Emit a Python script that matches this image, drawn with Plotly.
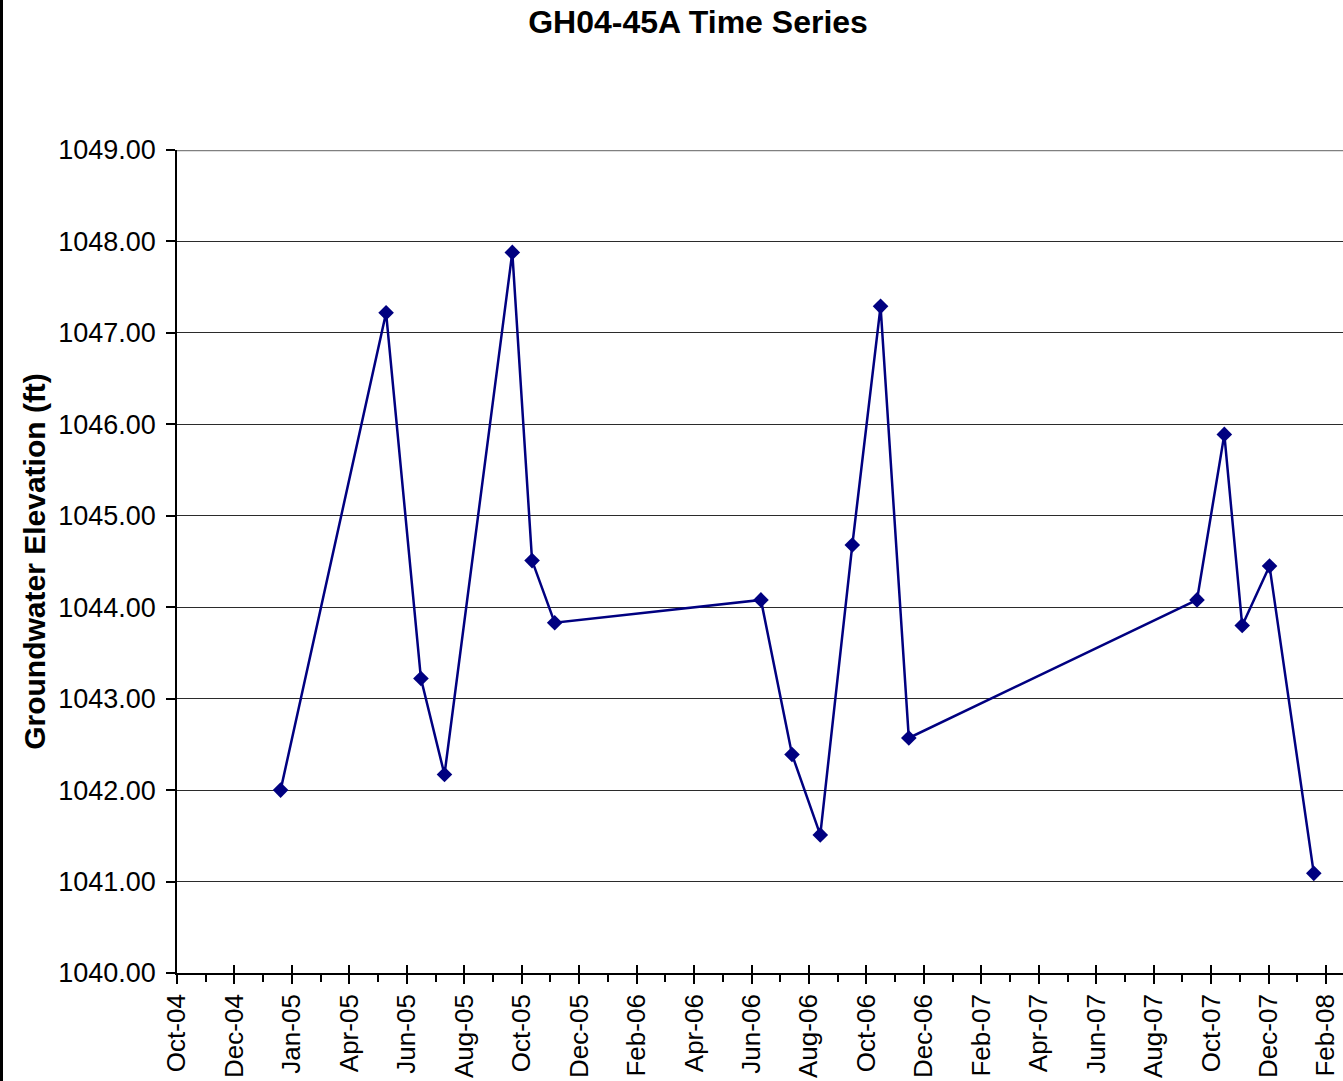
import plotly.graph_objects as go
import pandas as pd

dates = [
    "2005-01-19", "2005-05-11", "2005-06-17", "2005-07-12", "2005-09-22",
    "2005-10-13", "2005-11-06", "2006-06-13", "2006-07-16", "2006-08-15",
    "2006-09-18", "2006-10-18", "2006-11-17", "2007-09-19", "2007-10-18",
    "2007-11-06", "2007-12-05", "2008-01-21",
]
elevation = [
    1042.00, 1047.22, 1043.22, 1042.17, 1047.88,
    1044.51, 1043.83, 1044.08, 1042.39, 1041.51,
    1044.68, 1047.29, 1042.57, 1044.08, 1045.89,
    1043.80, 1044.45, 1041.09,
]

# x tick labels (Excel date axis, major unit 61 days from 1-Oct-2004)
tick_labels = [
    "Oct-04", "Dec-04", "Jan-05", "Apr-05", "Jun-05", "Aug-05", "Oct-05",
    "Dec-05", "Feb-06", "Apr-06", "Jun-06", "Aug-06", "Oct-06", "Dec-06",
    "Feb-07", "Apr-07", "Jun-07", "Aug-07", "Oct-07", "Dec-07", "Feb-08",
]

start = pd.Timestamp("2004-10-01")
tick_vals = [(start + pd.Timedelta(days=61 * i)).strftime("%Y-%m-%d") for i in range(len(tick_labels))]

font_family = "Arial, Liberation Sans, sans-serif"
navy = "#000080"

fig = go.Figure()
fig.add_trace(go.Scatter(
    x=dates,
    y=elevation,
    mode="lines+markers",
    line=dict(color=navy, width=2.5),
    marker=dict(symbol="diamond", size=12, color=navy),
    showlegend=False,
))
# invisible trace on overlay axis, only there to draw the inner half of the crossing ticks
fig.add_trace(go.Scatter(
    x=dates, y=elevation, xaxis="x2", mode="lines",
    line=dict(color="rgba(0,0,0,0)"), hoverinfo="skip", showlegend=False,
))

x_range = ["2004-10-01", "2008-02-21"]

fig.update_layout(
    width=1343,
    height=1081,
    paper_bgcolor="white",
    plot_bgcolor="white",
    margin=dict(l=177, r=0, t=150, b=108),
    font=dict(family=font_family, size=26, color="black"),
    title=dict(
        text="<b>GH04-45A Time Series</b>",
        x=698 / 1343, xref="container", xanchor="center",
        y=1 - 22 / 1081, yref="container", yanchor="middle",
        font=dict(size=32, color="black"),
    ),
    xaxis=dict(
        type="date",
        range=x_range,
        tickvals=tick_vals,
        ticktext=tick_labels,
        tickangle=-90,
        ticks="outside",
        ticklen=9,
        tickwidth=1.5,
        tickcolor="black",
        minor=dict(dtick=30.5 * 86400000, tick0="2004-10-01", ticks="outside",
                   ticklen=7, tickwidth=1.5, tickcolor="black", showgrid=False),
        showgrid=False,
        showline=True,
        linecolor="black",
        linewidth=1.5,
        zeroline=False,
        automargin=False,
        tickfont=dict(size=26, color="black"),
    ),
    xaxis2=dict(
        type="date",
        overlaying="x",
        matches="x",
        side="bottom",
        tickvals=tick_vals,
        ticks="inside",
        ticklen=8,
        tickwidth=1.5,
        tickcolor="black",
        showticklabels=False,
        showgrid=False,
        showline=False,
        zeroline=False,
    ),
    yaxis=dict(
        range=[1040, 1049],
        dtick=1,
        tick0=1040,
        tickformat=".2f",
        ticks="outside",
        ticklen=9,
        tickwidth=1.5,
        tickcolor="black",
        ticklabelstandoff=5,
        showgrid=True,
        gridcolor="#2b2b2b",
        gridwidth=1,
        showline=True,
        linecolor="black",
        linewidth=1.5,
        zeroline=False,
        automargin=False,
        tickfont=dict(size=27, color="black"),
        title=dict(text="<b>Groundwater Elevation (ft)</b>", standoff=4,
                   font=dict(size=30, color="black")),
    ),
    shapes=[
        # grey plot-area border on top
        dict(type="line", xref="paper", yref="y", x0=0, x1=1, y0=1049, y1=1049,
             line=dict(color="#808080", width=2.5)),
        # black chart border at the far left edge
        dict(type="line", xref="paper", yref="paper",
             x0=(1.5 - 177) / 1166, x1=(1.5 - 177) / 1166,
             y0=(973 + 10) / 823, y1=(973 - 1081) / 823,
             line=dict(color="black", width=3)),
    ],
)

# drop the default page margin so the figure starts at the window's top-left corner
fig.write_html("out.html", config={"displayModeBar": False},
               post_script="document.body.style.margin='0';")
